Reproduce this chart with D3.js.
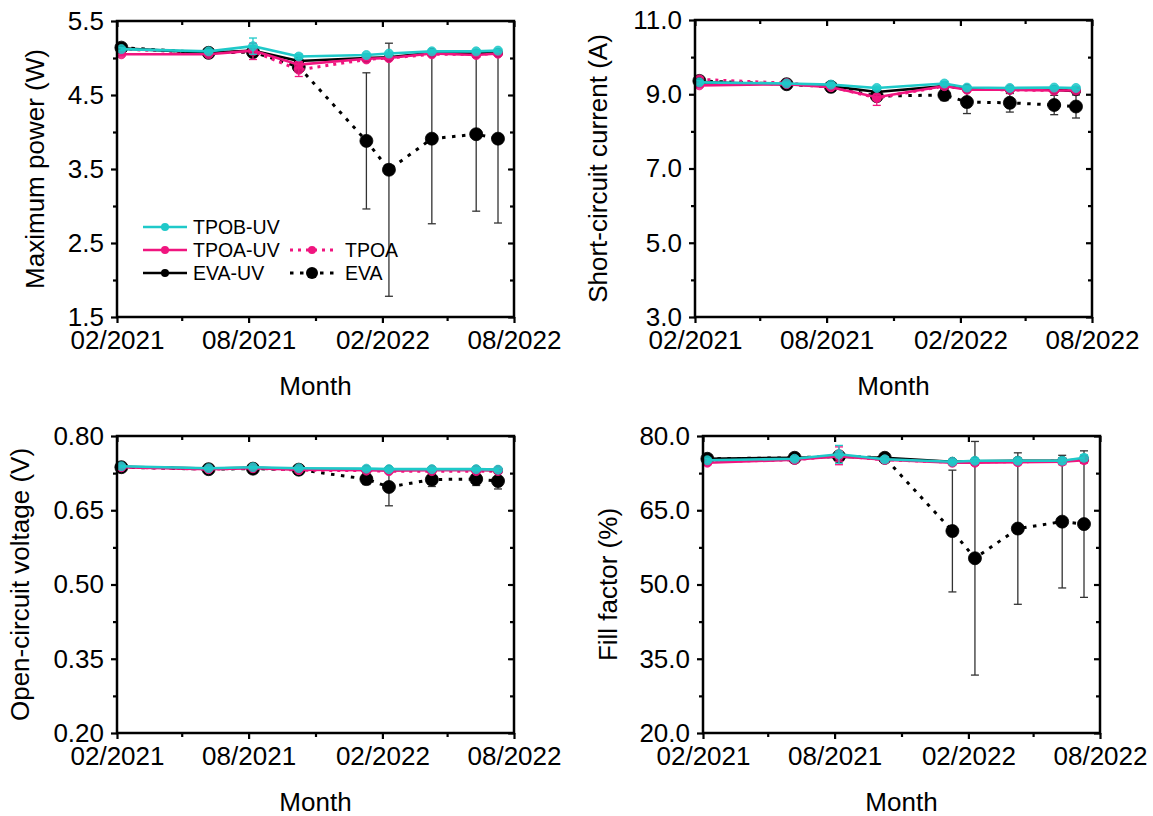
<!DOCTYPE html>
<html><head><meta charset="utf-8">
<script src="https://cdn.jsdelivr.net/npm/d3@7"></script>
<style>
body{margin:0;background:#fff}
svg{display:block}
text{font-family:"Liberation Sans",Arial,Helvetica,sans-serif;fill:#000}
</style>
</head><body>
<svg id="c" width="1153" height="816"></svg>
<script>
// ---------- data ----------
const dates = ["2021-02-07","2021-06-07","2021-08-07","2021-10-09","2022-01-10","2022-02-10","2022-04-10","2022-06-10","2022-07-10"];
const seriesNames = ["TPOB-UV","TPOA-UV","TPOA","EVA-UV","EVA"];
const xTickLabels = ["02/2021","08/2021","02/2022","08/2022"];

// Maximum power (W)
const pmaxTPOBUV = [5.12,5.09,5.16,5.02,5.04,5.06,5.09,5.09,5.10];
const pmaxTPOAUV = [5.05,5.05,5.10,4.91,4.99,5.00,5.06,5.04,5.06];
const pmaxTPOA   = [5.12,5.07,5.09,4.84,4.98,5.00,5.05,5.05,5.06];
const pmaxEVAUV  = [5.13,5.07,5.10,4.96,5.00,5.01,5.07,5.06,5.07];
const pmaxEVA    = [5.14,5.07,5.08,4.88,3.88,3.49,3.91,3.97,3.91];
const pmaxErrTPOBUV = [0.02,0.02,0.11,0.03,0.02,0.02,0.02,0.02,0.02];
const pmaxErrTPOAUV = [0.02,0.02,0.04,0.04,0.02,0.02,0.02,0.02,0.02];
const pmaxErrTPOA   = [0.02,0.02,0.11,0.09,0.02,0.02,0.02,0.02,0.02];
const pmaxErrEVAUV  = [0.02,0.02,0.05,0.03,0.02,0.02,0.02,0.02,0.02];
const pmaxErrEVA    = [0.03,0.02,0.05,0.06,0.92,1.71,1.15,1.04,1.14];

// Short-circuit current (A)
const iscTPOBUV = [9.32,9.29,9.26,9.17,9.29,9.18,9.17,9.18,9.17];
const iscTPOAUV = [9.24,9.27,9.19,8.92,9.22,9.12,9.12,9.10,9.10];
const iscTPOA   = [9.40,9.30,9.20,8.90,9.22,9.14,9.12,9.10,9.10];
const iscEVAUV  = [9.32,9.27,9.22,9.06,9.22,9.15,9.13,9.12,9.08];
const iscEVA    = [9.36,9.27,9.20,8.95,8.98,8.79,8.77,8.71,8.67];
const iscErrTPOBUV = [0.05,0.04,0.05,0.05,0.05,0.04,0.04,0.04,0.04];
const iscErrTPOAUV = [0.05,0.04,0.05,0.08,0.05,0.04,0.04,0.04,0.04];
const iscErrTPOA   = [0.06,0.04,0.05,0.20,0.05,0.04,0.04,0.04,0.04];
const iscErrEVAUV  = [0.05,0.04,0.05,0.06,0.05,0.04,0.04,0.04,0.04];
const iscErrEVA    = [0.04,0.04,0.05,0.08,0.15,0.31,0.25,0.26,0.31];

// Open-circuit voltage (V)
const vocTPOBUV = [0.739,0.735,0.737,0.735,0.734,0.733,0.733,0.733,0.732];
const vocTPOAUV = [0.737,0.733,0.735,0.732,0.731,0.730,0.731,0.731,0.731];
const vocTPOA   = [0.737,0.733,0.735,0.731,0.730,0.729,0.729,0.729,0.729];
const vocEVAUV  = [0.738,0.734,0.736,0.733,0.732,0.732,0.732,0.732,0.731];
const vocEVA    = [0.737,0.733,0.734,0.732,0.713,0.697,0.712,0.713,0.709];
const vocErrTPOBUV = [0.002,0.002,0.002,0.002,0.003,0.004,0.003,0.003,0.003];
const vocErrTPOAUV = [0.002,0.002,0.002,0.002,0.003,0.004,0.003,0.003,0.003];
const vocErrTPOA   = [0.002,0.002,0.002,0.002,0.003,0.004,0.003,0.003,0.003];
const vocErrEVAUV  = [0.002,0.002,0.002,0.002,0.003,0.004,0.003,0.003,0.003];
const vocErrEVA    = [0.002,0.002,0.002,0.002,0.011,0.038,0.014,0.013,0.016];

// Fill factor (%)
const ffTPOBUV = [75.1,75.4,76.3,75.3,74.8,75.0,75.0,75.0,75.6];
const ffTPOAUV = [74.6,75.2,75.9,75.2,74.6,74.6,74.7,74.8,75.1];
const ffTPOA   = [74.8,75.2,76.0,75.2,74.7,74.8,74.8,74.9,75.3];
const ffEVAUV  = [75.4,75.6,75.8,75.6,74.8,74.9,75.0,75.0,75.3];
const ffEVA    = [75.4,75.6,75.9,75.6,60.8,55.3,61.3,62.7,62.2];
const ffErrTPOBUV = [0.4,0.4,1.8,0.5,0.4,0.5,0.5,0.6,0.6];
const ffErrTPOAUV = [0.4,0.4,1.0,0.5,0.4,0.5,0.5,0.6,0.6];
const ffErrTPOA   = [0.4,0.4,1.8,0.5,0.4,0.5,0.5,0.6,0.6];
const ffErrEVAUV  = [0.4,0.4,1.0,0.5,0.4,0.5,0.5,0.6,0.6];
const ffErrEVA    = [0.4,0.4,0.8,0.5,12.3,23.6,15.3,13.4,14.8];

// ---------- styles ----------
const COL_CYAN = "#1fc9c9", COL_MAG = "#f0157f", COL_BLK = "#000000";
const styles = {
  "TPOB-UV": {color:COL_CYAN, dash:null, r:4.5, width:2.6, err:COL_CYAN, op:0.85},
  "TPOA-UV": {color:COL_MAG, dash:null, r:4.5, width:2.6, err:COL_MAG, op:0.85},
  "TPOA":    {color:COL_MAG, dash:"3,5", r:4.5, width:3, err:COL_MAG, op:0.85},
  "EVA-UV":  {color:COL_BLK, dash:null, r:4.5, width:2.6, err:"#222", op:1},
  "EVA":     {color:COL_BLK, dash:"3.5,6.5", r:6.5, width:3, err:"#333", op:1}
};
const drawOrder = ["EVA","TPOA","EVA-UV","TPOA-UV","TPOB-UV"];

const parse = d3.timeParse("%Y-%m-%d");
const xVals = dates.map(parse);
const xDomain = [parse("2021-02-01"), parse("2022-08-01")];
const xMajor = ["2021-02-01","2021-08-01","2022-02-01","2022-08-01"].map(parse);
const xMinor = ["2021-05-01","2021-11-01","2022-05-01"].map(parse);

const panels = [
  {left:117, top:21, w:397, h:296, yDomain:[1.5,5.5], yMajor:[1.5,2.5,3.5,4.5,5.5], yMinor:[2,3,4,5],
   fmt:".1f", ylabel:"Maximum power (W)", labelOff:-73, legend:true,
   vals:[pmaxTPOBUV,pmaxTPOAUV,pmaxTPOA,pmaxEVAUV,pmaxEVA],
   errs:[pmaxErrTPOBUV,pmaxErrTPOAUV,pmaxErrTPOA,pmaxErrEVAUV,pmaxErrEVA]},
  {left:695, top:20, w:397, h:297, yDomain:[3,11], yMajor:[3,5,7,9,11], yMinor:[4,6,8,10],
   fmt:".1f", ylabel:"Short-circuit current (A)", labelOff:-88,
   vals:[iscTPOBUV,iscTPOAUV,iscTPOA,iscEVAUV,iscEVA],
   errs:[iscErrTPOBUV,iscErrTPOAUV,iscErrTPOA,iscErrEVAUV,iscErrEVA]},
  {left:117, top:436, w:397, h:297, yDomain:[0.2,0.8], yMajor:[0.2,0.35,0.5,0.65,0.8], yMinor:[0.275,0.425,0.575,0.725],
   fmt:".2f", ylabel:"Open-circuit voltage (V)", labelOff:-88,
   vals:[vocTPOBUV,vocTPOAUV,vocTPOA,vocEVAUV,vocEVA],
   errs:[vocErrTPOBUV,vocErrTPOAUV,vocErrTPOA,vocErrEVAUV,vocErrEVA]},
  {left:703, top:436, w:397, h:297, yDomain:[20,80], yMajor:[20,35,50,65,80], yMinor:[27.5,42.5,57.5,72.5],
   fmt:".1f", ylabel:"Fill factor (%)", labelOff:-86,
   vals:[ffTPOBUV,ffTPOAUV,ffTPOA,ffEVAUV,ffEVA],
   errs:[ffErrTPOBUV,ffErrTPOAUV,ffErrTPOA,ffErrEVAUV,ffErrEVA]}
];

const svg = d3.select("#c");
const TICKFONT = 26, TITLEFONT = 26;

panels.forEach(p => {
  const g = svg.append("g").attr("transform", `translate(${p.left},${p.top})`);
  const x = d3.scaleTime().domain(xDomain).range([0, p.w]);
  const y = d3.scaleLinear().domain(p.yDomain).range([p.h, 0]);

  const axL = g.append("g").call(d3.axisLeft(y).tickValues(p.yMajor).tickSize(6).tickPadding(7).tickFormat(d3.format(p.fmt)));
  const axLm = g.append("g").call(d3.axisLeft(y).tickValues(p.yMinor).tickSize(4).tickFormat(""));
  const axB = g.append("g").attr("transform",`translate(0,${p.h})`)
    .call(d3.axisBottom(x).tickValues(xMajor).tickSize(6).tickPadding(8).tickFormat((d,i)=>xTickLabels[i]));
  const axBm = g.append("g").attr("transform",`translate(0,${p.h})`).call(d3.axisBottom(x).tickValues(xMinor).tickSize(4).tickFormat(""));
  const axR = g.append("g").attr("transform",`translate(${p.w},0)`).call(d3.axisLeft(y).tickValues(p.yMajor).tickSize(6).tickFormat(""));
  const axRm = g.append("g").attr("transform",`translate(${p.w},0)`).call(d3.axisLeft(y).tickValues(p.yMinor).tickSize(4).tickFormat(""));
  const axT = g.append("g").call(d3.axisBottom(x).tickValues(xMajor).tickSize(6).tickFormat(""));
  const axTm = g.append("g").call(d3.axisBottom(x).tickValues(xMinor).tickSize(4).tickFormat(""));
  [axL,axLm,axB,axBm,axR,axRm,axT,axTm].forEach(a=>{
    a.select(".domain").remove();
    a.selectAll(".tick line").attr("stroke","#000").attr("stroke-width",2.2);
    a.selectAll(".tick text").attr("font-size",TICKFONT).attr("fill","#000")
      .style("font-family",'"Liberation Sans",Arial,sans-serif');
  });

  const clip = "clip" + p.left + "_" + p.top;
  g.append("clipPath").attr("id",clip).append("rect").attr("x",-10).attr("y",-10).attr("width",p.w+20).attr("height",p.h+20);
  const dg = g.append("g").attr("clip-path",`url(#${clip})`);

  drawOrder.forEach(name => {
    const si = seriesNames.indexOf(name);
    const st = styles[name];
    const pts = xVals.map((d,i)=>({x:d, v:p.vals[si][i], e:p.errs[si][i]}));
    const sg = dg.append("g");
    const eb = sg.selectAll(".eb").data(pts).enter().append("g").attr("class","eb");
    eb.append("line").attr("x1",d=>x(d.x)).attr("x2",d=>x(d.x))
      .attr("y1",d=>y(d.v-d.e)).attr("y2",d=>y(d.v+d.e)).attr("stroke",st.err).attr("stroke-width",1.3);
    eb.append("line").attr("x1",d=>x(d.x)-4).attr("x2",d=>x(d.x)+4)
      .attr("y1",d=>y(d.v-d.e)).attr("y2",d=>y(d.v-d.e)).attr("stroke",st.err).attr("stroke-width",1.3);
    eb.append("line").attr("x1",d=>x(d.x)-4).attr("x2",d=>x(d.x)+4)
      .attr("y1",d=>y(d.v+d.e)).attr("y2",d=>y(d.v+d.e)).attr("stroke",st.err).attr("stroke-width",1.3);
    sg.append("path").datum(pts)
      .attr("d", d3.line().x(d=>x(d.x)).y(d=>y(d.v)))
      .attr("fill","none").attr("stroke",st.color).attr("stroke-width",st.width)
      .attr("stroke-dasharray",st.dash);
    sg.selectAll("circle").data(pts).enter().append("circle")
      .attr("cx",d=>x(d.x)).attr("cy",d=>y(d.v)).attr("r",st.r)
      .attr("fill",st.color).attr("fill-opacity",st.op).attr("stroke",st.color).attr("stroke-width",0.8);
  });

  g.append("rect").attr("x",0).attr("y",0).attr("width",p.w).attr("height",p.h)
    .attr("fill","none").attr("stroke","#000").attr("stroke-width",2.5);

  g.append("text").attr("x",p.w/2).attr("y",p.h+78).attr("text-anchor","middle")
    .attr("font-size",TITLEFONT).text("Month");
  g.append("text").attr("transform",`translate(${p.labelOff},${p.h/2}) rotate(-90)`)
    .attr("text-anchor","middle").attr("font-size",TITLEFONT).text(p.ylabel);

  if (p.legend) {
    const items = [
      {name:"TPOB-UV", lx:26, ly:206},
      {name:"TPOA-UV", lx:26, ly:229},
      {name:"EVA-UV",  lx:26, ly:252},
      {name:"TPOA",    lx:173, ly:229},
      {name:"EVA",     lx:173, ly:252}
    ];
    const lg = g.append("g");
    items.forEach(it => {
      const st = styles[it.name];
      lg.append("line").attr("x1",it.lx).attr("x2",it.lx+44).attr("y1",it.ly).attr("y2",it.ly)
        .attr("stroke",st.color).attr("stroke-width",st.width).attr("stroke-dasharray",st.dash);
      lg.append("circle").attr("cx",it.lx+22).attr("cy",it.ly).attr("r",it.name==="EVA"?6:4)
        .attr("fill",st.color);
      lg.append("text").attr("x",it.lx+50 + (it.name==="EVA"||it.name==="TPOA"?5:0)).attr("y",it.ly).attr("dy","0.36em")
        .attr("font-size",19.5).text(it.name);
    });
  }
});
</script>
</body></html>
